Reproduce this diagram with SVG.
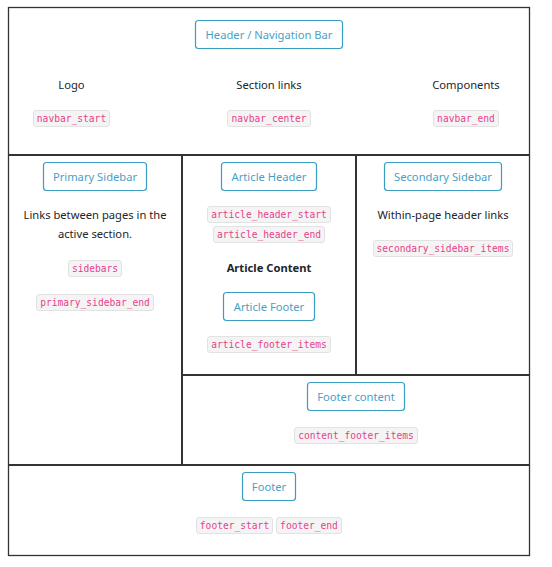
<svg xmlns="http://www.w3.org/2000/svg" width="552" height="567" viewBox="0 0 552 567">
<style>
.frame{fill:none;stroke:#333;stroke-width:1.3}
.div{stroke:#333;stroke-width:2;fill:none}
.btn{fill:#fff;stroke:#3b9dc1;stroke-width:1.2}
.btxt{font-family:"Noto Sans","Open Sans",sans-serif;font-size:11.2px;fill:#4a9fc6;text-anchor:middle}
.lbl{font-family:"Noto Sans","Open Sans",sans-serif;font-size:11.2px;fill:#212529;text-anchor:middle}
.bold{font-weight:bold}
.pill{fill:#f4f4f4;stroke:#e2e2e2;stroke-width:1}
.code{font-family:"DejaVu Sans Mono","Liberation Mono",monospace;font-size:9.6px;fill:#e83e8c;text-anchor:middle}
</style>
<rect width="552" height="567" fill="#fff"/>
<g id="layout">
<rect class="frame" x="8.5" y="7.5" width="521" height="548"/>
<path class="div" d="M8.5 155H529.5M182 155V465M356 155V375M182 375H529.5M8.5 465H529.5"/>
</g>
<g id="connectors"></g>
<g id="header">
<rect class="btn" x="195.5" y="20.5" width="147" height="28" rx="3"/>
<text class="btxt" x="269" y="38.5">Header / Navigation Bar</text>
</g>
<g id="logo">
<text class="lbl" x="71.5" y="89">Logo</text>
<rect class="pill" x="33.5" y="110.5" width="76" height="16" rx="2.5"/>
<text class="code" x="71.5" y="122">navbar_start</text>
</g>
<g id="section-links">
<text class="lbl" x="269" y="89">Section links</text>
<rect class="pill" x="227.5" y="110.5" width="83" height="16" rx="2.5"/>
<text class="code" x="269" y="122">navbar_center</text>
</g>
<g id="components">
<text class="lbl" x="466" y="89">Components</text>
<rect class="pill" x="433.5" y="110.5" width="65" height="16" rx="2.5"/>
<text class="code" x="466" y="122">navbar_end</text>
</g>
<g id="primary-sidebar">
<rect class="btn" x="43.5" y="162.5" width="103" height="28" rx="3"/>
<text class="btxt" x="95" y="180.5">Primary Sidebar</text>
<text class="lbl" x="95" y="219">Links between pages in the</text>
<text class="lbl" x="95" y="237.5">active section.</text>
<rect class="pill" x="68.5" y="260.5" width="53" height="16" rx="2.5"/>
<text class="code" x="95" y="272">sidebars</text>
<rect class="pill" x="36.5" y="294.5" width="117" height="16" rx="2.5"/>
<text class="code" x="95" y="306">primary_sidebar_end</text>
</g>
<g id="article">
<rect class="btn" x="221.5" y="162.5" width="95" height="28" rx="3"/>
<text class="btxt" x="269" y="180.5">Article Header</text>
<rect class="pill" x="207.5" y="206.5" width="123" height="16" rx="2.5"/>
<text class="code" x="269" y="218">article_header_start</text>
<rect class="pill" x="213.5" y="226.5" width="111" height="16" rx="2.5"/>
<text class="code" x="269" y="238">article_header_end</text>
<text class="lbl bold" x="269" y="272">Article Content</text>
<rect class="btn" x="223.5" y="292.5" width="91" height="28" rx="3"/>
<text class="btxt" x="269" y="310.5">Article Footer</text>
<rect class="pill" x="207.5" y="336.5" width="123" height="16" rx="2.5"/>
<text class="code" x="269" y="348">article_footer_items</text>
</g>
<g id="secondary-sidebar">
<rect class="btn" x="384.5" y="162.5" width="117" height="28" rx="3"/>
<text class="btxt" x="443" y="180.5">Secondary Sidebar</text>
<text class="lbl" x="443" y="219">Within-page header links</text>
<rect class="pill" x="373.5" y="240.5" width="139" height="16" rx="2.5"/>
<text class="code" x="443" y="252">secondary_sidebar_items</text>
</g>
<g id="footer-content">
<rect class="btn" x="307.5" y="382.5" width="97" height="28" rx="3"/>
<text class="btxt" x="356" y="400.5">Footer content</text>
<rect class="pill" x="294.5" y="427.5" width="123" height="16" rx="2.5"/>
<text class="code" x="356" y="439">content_footer_items</text>
</g>
<g id="footer">
<rect class="btn" x="242.5" y="472.5" width="53" height="28" rx="3"/>
<text class="btxt" x="269" y="490.5">Footer</text>
<rect class="pill" x="196.5" y="517.5" width="76" height="16" rx="2.5"/>
<text class="code" x="234.5" y="529">footer_start</text>
<rect class="pill" x="276.5" y="517.5" width="65" height="16" rx="2.5"/>
<text class="code" x="309" y="529">footer_end</text>
</g>
</svg>
